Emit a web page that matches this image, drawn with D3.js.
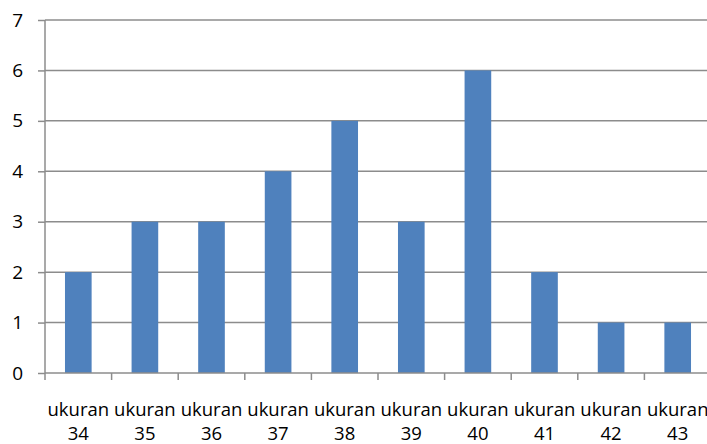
<!DOCTYPE html>
<html><head><meta charset="utf-8">
<script src="https://cdn.jsdelivr.net/npm/d3@7"></script>
<style>html,body{margin:0;padding:0;background:#fff;overflow:hidden}</style>
</head><body>
<svg id="c" width="707" height="444"></svg>
<script>
const categories = ["ukuran 34","ukuran 35","ukuran 36","ukuran 37","ukuran 38","ukuran 39","ukuran 40","ukuran 41","ukuran 42","ukuran 43"];
const values = [2,3,3,4,5,3,6,2,1,1];
const yTicks = [0,1,2,3,4,5,6,7];

const svg = d3.select("#c");
const m = {left:45, top:20, right:711, bottom:373};
const x = d3.scaleBand().domain(categories).range([m.left, m.right]).paddingInner(0).paddingOuter(0);
const y = d3.scaleLinear().domain([0,7]).range([m.bottom, m.top]);
const font = "'Open Sans', sans-serif";
const fs = "18.5px";

// gridlines
svg.append("g").selectAll("line").data(yTicks.filter(d=>d>0)).join("line")
  .attr("x1", m.left).attr("x2", m.right)
  .attr("y1", d=>y(d)).attr("y2", d=>y(d))
  .attr("stroke", "#8c8c8c").attr("stroke-width", 1.5);

// bars
const bw = x.bandwidth()*0.4;
svg.append("g").selectAll("rect").data(values).join("rect")
  .attr("x", (d,i)=>x(categories[i]) + x.bandwidth()/2 - bw/2)
  .attr("width", bw)
  .attr("y", d=>y(d))
  .attr("height", d=>y(0)-y(d))
  .attr("fill", "#4F81BD");

// y axis
const ya = svg.append("g").attr("transform", `translate(${m.left},0)`)
  .call(d3.axisLeft(y).tickValues(yTicks).tickSize(7).tickPadding(15).tickFormat(d3.format("d")));
ya.select(".domain").attr("stroke", "#8c8c8c").attr("stroke-width", 1.5).attr("d", `M0,${m.top}V${m.bottom}`);
ya.selectAll(".tick line").attr("stroke", "#8c8c8c").attr("stroke-width", 1.5);
ya.selectAll(".tick text").attr("font-family", font).attr("font-size", "19px").attr("fill", "#000");

// x axis
const xa = svg.append("g").attr("transform", `translate(0,${m.bottom})`)
  .call(d3.axisBottom(x).tickValues([]).tickSize(0));
xa.select(".domain").attr("stroke", "#8c8c8c").attr("stroke-width", 1.5).attr("d", `M${m.left},0H${m.right}`);
const edges = categories.map(c=>x(c)).concat([m.right]);
xa.selectAll("line.edge").data(edges).join("line").attr("class","edge")
  .attr("x1", d=>d).attr("x2", d=>d).attr("y1", 0).attr("y2", 7)
  .attr("stroke", "#8c8c8c").attr("stroke-width", 1.5);

const lab = svg.append("g").selectAll("text").data(categories).join("text")
  .attr("x", d=>x(d)+x.bandwidth()/2)
  .attr("y", 416)
  .attr("text-anchor", "middle")
  .attr("font-family", font).attr("font-size", fs).attr("fill", "#000");
lab.each(function(d){
  const parts = d.split(" ");
  const t = d3.select(this);
  t.append("tspan").attr("x", x(d)+x.bandwidth()/2).attr("dy", 0).text(parts[0]);
  t.append("tspan").attr("x", x(d)+x.bandwidth()/2).attr("dy", 24).text(parts[1]);
});
</script>
</body></html>
